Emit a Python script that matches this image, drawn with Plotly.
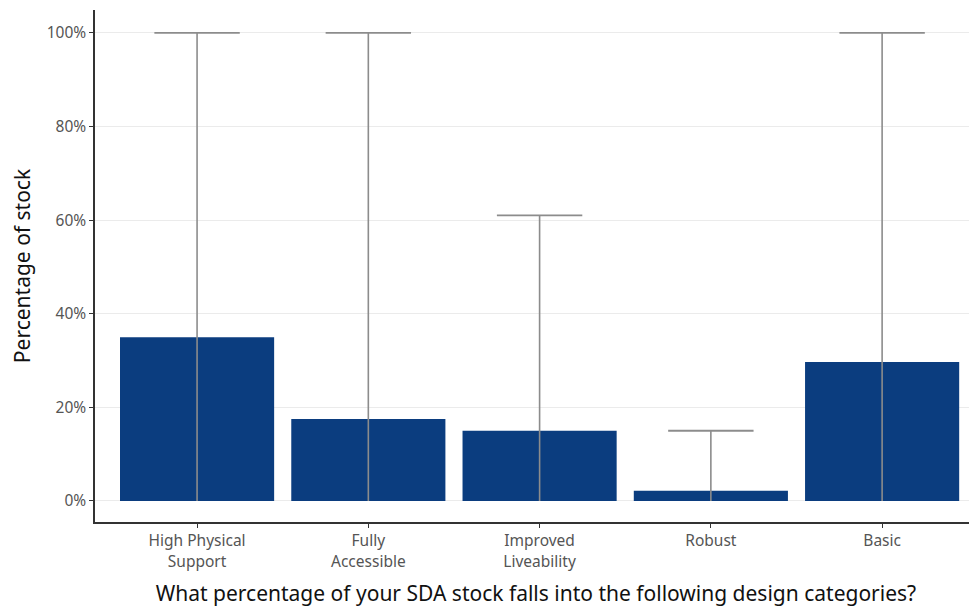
import plotly.graph_objects as go

categories = ["High Physical<br>Support", "Fully<br>Accessible", "Improved<br>Liveability", "Robust", "Basic"]
mean_pct = [35, 17.5, 15, 2.2, 29.7]
max_pct = [100, 100, 61, 15, 100]
min_pct = [0, 0, 0, 0, 0]

x_idx = list(range(len(categories)))

fig = go.Figure()
fig.add_trace(go.Bar(
    x=x_idx, y=mean_pct, width=0.9,
    marker=dict(color="#0b3d7f", line=dict(width=0)),
    showlegend=False, hoverinfo="skip",
))

# vertical whiskers from min to max
wx, wy = [], []
for i, lo, hi in zip(x_idx, min_pct, max_pct):
    wx += [i, i, None]
    wy += [lo, hi, None]
fig.add_trace(go.Scatter(
    x=wx, y=wy, mode="lines",
    line=dict(color="#8c8c8c", width=1.6),
    showlegend=False, hoverinfo="skip",
))
# top caps
fig.add_trace(go.Scatter(
    x=x_idx, y=max_pct, mode="markers",
    marker=dict(symbol="line-ew", size=61, line=dict(color="#8c8c8c", width=1.8)),
    showlegend=False, hoverinfo="skip",
))

font_family = "'Noto Sans', 'Open Sans', sans-serif"
fig.update_layout(
    width=969, height=600,
    margin=dict(l=87, r=0, t=2, b=86),
    plot_bgcolor="white", paper_bgcolor="white",
    font=dict(family=font_family, color="#222"),
)
fig.update_xaxes(
    range=[-0.596, 4.554],
    tickmode="array", tickvals=x_idx, ticktext=categories,
    tickfont=dict(size=15.5, color="#555555"),
    showline=True, linecolor="#333", linewidth=1.5,
    ticks="outside", ticklen=4, tickcolor="#333",
    showgrid=False, zeroline=False,
    title=dict(text="What percentage of your SDA stock falls into the following design categories?",
               font=dict(size=21, color="#111"), standoff=16),
)
fig.update_yaxes(
    range=[-4.5, 104.9],
    tickvals=[0, 20, 40, 60, 80, 100],
    ticktext=["0%", "20%", "40%", "60%", "80%", "100%"],
    tickfont=dict(size=15.5, color="#555555"),
    showline=True, linecolor="#333", linewidth=1.5,
    ticks="outside", ticklen=4, tickcolor="#333",
    showgrid=True, gridcolor="#ebebeb", gridwidth=1.2, zeroline=False,
    title=dict(text="Percentage of stock", font=dict(size=21, color="#111"), standoff=12),
)
fig.write_html("out.html")
